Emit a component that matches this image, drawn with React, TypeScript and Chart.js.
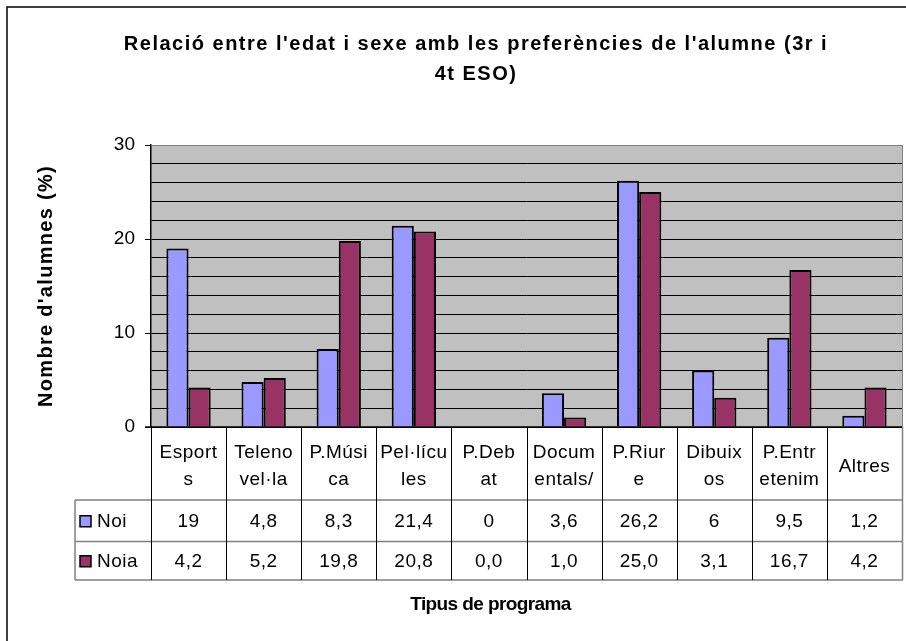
import React, { useEffect, useRef } from "react";
import { Chart, registerables } from "chart.js";

Chart.register(...registerables);

const titleLines = ["Relació entre l'edat i sexe amb les preferències de l'alumne (3r i", "4t ESO)"];
const yTitle = "Nombre d'alumnes (%)";
const xTitle = "Tipus de programa";
const categories: string[][] = [
  ["Esport", "s"],
  ["Teleno", "vel·la"],
  ["P.Músi", "ca"],
  ["Pel·lícu", "les"],
  ["P.Deb", "at"],
  ["Docum", "entals/"],
  ["P.Riur", "e"],
  ["Dibuix", "os"],
  ["P.Entr", "etenim"],
  ["Altres"],
];
const seriesNames = ["Noi", "Noia"];
const noi = [19, 4.8, 8.3, 21.4, 0, 3.6, 26.2, 6, 9.5, 1.2];
const noia = [4.2, 5.2, 19.8, 20.8, 0.0, 1.0, 25.0, 3.1, 16.7, 4.2];
const noiText = ["19", "4,8", "8,3", "21,4", "0", "3,6", "26,2", "6", "9,5", "1,2"];
const noiaText = ["4,2", "5,2", "19,8", "20,8", "0,0", "1,0", "25,0", "3,1", "16,7", "4,2"];
const yMin = 0;
const yMax = 30;
const yGridStep = 2;
const yLabelStep = 10;

const COLORS = ["#9999FF", "#993366"];
const FONT = "'Liberation Sans', Arial, sans-serif";

const tablePlugin = {
  id: "excelTable",
  beforeDraw(chart: any) {
    const { ctx, chartArea: a } = chart;
    ctx.save();
    ctx.fillStyle = "#ffffff";
    ctx.fillRect(0, 0, chart.width, chart.height);
    ctx.fillStyle = "#C0C0C0";
    ctx.fillRect(a.left, a.top, a.right - a.left, a.bottom - a.top);
    ctx.restore();
  },
  afterDraw(chart: any) {
    const { ctx, chartArea: a } = chart;
    const xs = chart.scales.x;
    const n = categories.length;
    const colW = (a.right - a.left) / n;
    const headerLeft = 75;
    const catTop = a.bottom;
    const catBottom = a.bottom + 73;
    const noiBottom = catBottom + 41.5;
    const noiaBottom = noiBottom + 38.5;
    ctx.save();
    // plot border top/right
    ctx.strokeStyle = "#808080";
    ctx.lineWidth = 1;
    ctx.beginPath();
    ctx.moveTo(a.left, a.top + 0.5);
    ctx.lineTo(a.right + 0.5, a.top + 0.5);
    ctx.lineTo(a.right + 0.5, a.bottom);
    ctx.stroke();
    // horizontal table lines
    ctx.strokeStyle = "#808080";
    ctx.lineWidth = 1.5;
    ctx.beginPath();
    [catBottom, noiBottom, noiaBottom].forEach((y) => {
      ctx.moveTo(headerLeft, y);
      ctx.lineTo(a.right + 1, y);
    });
    ctx.moveTo(headerLeft, catBottom);
    ctx.lineTo(headerLeft, noiaBottom);
    ctx.moveTo(a.right + 0.5, catTop);
    ctx.lineTo(a.right + 0.5, noiaBottom);
    ctx.stroke();
    // vertical lines
    ctx.strokeStyle = "#000";
    ctx.lineWidth = 1;
    ctx.beginPath();
    for (let i = 0; i < n; i++) {
      const x = Math.round(a.left + i * colW) + 0.5;
      ctx.moveTo(x, catTop);
      ctx.lineTo(x, noiaBottom);
    }
    ctx.stroke();
    // bottom axis line
    ctx.strokeStyle = "#000";
    ctx.lineWidth = 1.5;
    ctx.beginPath();
    ctx.moveTo(a.left - 6, a.bottom);
    ctx.lineTo(a.right, a.bottom);
    ctx.stroke();
    // texts
    ctx.fillStyle = "#000";
    ctx.font = `19px ${FONT}`;
    (ctx as any).letterSpacing = "0.5px";
    ctx.textAlign = "center";
    ctx.textBaseline = "middle";
    for (let i = 0; i < n; i++) {
      const cx = xs.getPixelForValue(i);
      const lines = categories[i];
      const mid = (catTop + catBottom) / 2;
      const lh = 27;
      lines.forEach((ln, k) => {
        ctx.fillText(ln, cx, mid + (k - (lines.length - 1) / 2) * lh + 3);
      });
      ctx.fillText(noiText[i], cx, (catBottom + noiBottom) / 2 + 1);
      ctx.fillText(noiaText[i], cx, (noiBottom + noiaBottom) / 2 + 1);
    }
    // row headers with legend keys
    ctx.textAlign = "left";
    const rows = [
      { y: (catBottom + noiBottom) / 2, c: COLORS[0], t: seriesNames[0] },
      { y: (noiBottom + noiaBottom) / 2, c: COLORS[1], t: seriesNames[1] },
    ];
    rows.forEach((r) => {
      ctx.fillStyle = r.c;
      ctx.fillRect(80, r.y - 5, 11, 11);
      ctx.strokeStyle = "#000";
      ctx.lineWidth = 1.5;
      ctx.strokeRect(80, r.y - 5, 11, 11);
      ctx.fillStyle = "#000";
      ctx.fillText(r.t, 97, r.y + 1);
    });
    // chart title
    ctx.font = `bold 20px ${FONT}`;
    (ctx as any).letterSpacing = "1.5px";
    ctx.textAlign = "center";
    ctx.fillText(titleLines[0], 476, 44);
    ctx.fillText(titleLines[1], 476, 74);
    // axis titles
    ctx.font = `bold 19px ${FONT}`;
    (ctx as any).letterSpacing = "-0.6px";
    ctx.fillText(xTitle, (headerLeft + a.right) / 2 + 2, 605);
    ctx.font = `bold 20px ${FONT}`;
    (ctx as any).letterSpacing = "1.3px";
    ctx.save();
    ctx.translate(46, (a.top + a.bottom) / 2);
    ctx.rotate(-Math.PI / 2);
    ctx.fillText(yTitle, 0, 0);
    ctx.restore();
    (ctx as any).letterSpacing = "0px";
    // outer border
    ctx.strokeStyle = "#000";
    ctx.lineWidth = 1.5;
    ctx.strokeRect(7, 7, chart.width + 10, chart.height + 10);
    ctx.restore();
  },
};

export default function App() {
  const ref = useRef<HTMLCanvasElement | null>(null);
  useEffect(() => {
    if (!ref.current) return;
    const zeroless = (ctx: any) => (ctx.raw === 0 ? 0 : 2);
    const chart = new Chart(ref.current, {
      type: "bar",
      data: {
        labels: categories,
        datasets: [
          { label: seriesNames[0], data: noi, backgroundColor: COLORS[0], borderColor: "#000", borderWidth: zeroless as any, borderSkipped: "bottom" },
          { label: seriesNames[1], data: noia, backgroundColor: COLORS[1], borderColor: "#000", borderWidth: zeroless as any, borderSkipped: "bottom" },
        ],
      },
      options: {
        responsive: false,
        animation: false,
        layout: { padding: { left: 75, right: 4, top: 145, bottom: 214 } },
        datasets: { bar: { categoryPercentage: 0.59, barPercentage: 1 } },
        plugins: {
          legend: { display: false },
          tooltip: { enabled: false },
          title: { display: false },
        },
        scales: {
          x: { display: false },
          y: {
            min: yMin,
            max: yMax,
            afterFit: (s: any) => {
              s.width = 76;
            },
            border: { display: true, color: "#000", width: 1.5 },
            grid: {
              color: (c: any) => (c.tick && c.tick.value === yMax ? "#808080" : "#000"),
              lineWidth: 1,
              drawTicks: true,
              tickLength: 6,
              tickColor: (c: any) => (c.tick && c.tick.value % yLabelStep === 0 ? "#000" : "rgba(0,0,0,0)"),
            },
            ticks: {
              stepSize: yGridStep,
              autoSkip: false,
              color: "#000",
              padding: 10,
              font: { family: FONT, size: 19 },
              callback: (v: any) => (Number(v) % yLabelStep === 0 ? String(v) : ""),
            },
          },
        },
      },
      plugins: [tablePlugin],
    });
    return () => chart.destroy();
  }, []);
  return (
    <div style={{ position: "absolute", left: 0, top: 0, width: 906, height: 641 }}>
      <canvas ref={ref} width={906} height={641} style={{ display: "block" }} />
    </div>
  );
}
